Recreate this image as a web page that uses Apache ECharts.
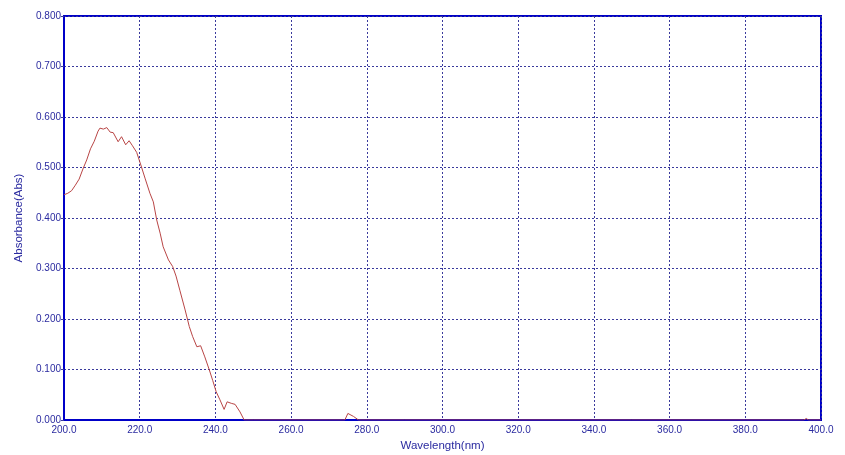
<!DOCTYPE html>
<html>
<head>
<meta charset="utf-8">
<script src="https://cdn.jsdelivr.net/npm/echarts@6/dist/echarts.min.js"></script>
<style>
html,body{margin:0;padding:0;background:#fff;}
#main{width:845px;height:455px;}
</style>
</head>
<body>
<div id="main"></div>
<script>
var wavelengths = [200.0, 201.0, 202.0, 203.0, 204.0, 205.0, 206.0, 207.0, 208.0, 209.0, 209.5, 210.4, 211.3, 212.2, 213.0, 214.3, 215.2, 216.3, 217.2, 218.1, 219.2, 220.3, 221.4, 222.7, 223.6, 224.5, 225.4, 226.2, 227.6, 228.7, 229.6, 230.6, 232.0, 233.1, 234.0, 235.1, 236.1, 237.2, 238.4, 239.3, 240.2, 241.2, 242.3, 243.1, 244.2, 245.2, 246.5, 247.6, 250.0, 260.0, 270.0, 274.2, 275.0, 276.5, 277.8, 290.0, 320.0, 350.0, 380.0, 395.5, 396.1, 396.7, 400.0];
var absorbance = [0.446, 0.449, 0.454, 0.465, 0.477, 0.497, 0.515, 0.537, 0.552, 0.572, 0.578, 0.576, 0.579, 0.570, 0.569, 0.551, 0.561, 0.545, 0.553, 0.543, 0.530, 0.505, 0.479, 0.449, 0.432, 0.396, 0.370, 0.343, 0.317, 0.304, 0.285, 0.257, 0.218, 0.185, 0.165, 0.145, 0.147, 0.125, 0.099, 0.078, 0.056, 0.040, 0.021, 0.036, 0.033, 0.031, 0.016, 0.000, 0.000, 0.000, 0.000, 0.000, 0.013, 0.007, 0.000, 0.000, 0.000, 0.000, 0.000, 0.000, 0.003, 0.000, 0.000];

var xName = 'Wavelength(nm)';
var yName = 'Absorbance(Abs)';

var points = wavelengths.map(function (w, i) { return [w, absorbance[i]]; });

var axisBlue = '#0000c8';
var textBlue = '#2b2ba0';
var gridBlue = '#3a3a9c';

var chart = echarts.init(document.getElementById('main'), null, {renderer: 'canvas'});
chart.setOption({
  animation: false,
  backgroundColor: '#ffffff',
  grid: {
    left: 64, right: 24, top: 16, bottom: 35,
    containLabel: false,
    outerBoundsMode: 'none',
    show: true, borderColor: axisBlue, borderWidth: 2, backgroundColor: 'transparent'
  },
  xAxis: {
    type: 'value',
    min: 200, max: 400, interval: 20,
    name: xName,
    nameLocation: 'middle',
    nameGap: 15,
    nameTextStyle: {color: textBlue, fontSize: 11.5, fontFamily: 'Liberation Sans'},
    axisLine: {show: true, lineStyle: {color: axisBlue, width: 2}},
    axisTick: {show: false},
    axisLabel: {
      color: textBlue, fontSize: 10, fontFamily: 'Liberation Sans', margin: 5,
      formatter: function (v) { return v.toFixed(1); }
    },
    splitLine: {show: true, lineStyle: {color: gridBlue, width: 1, type: [2, 2]}}
  },
  yAxis: {
    type: 'value',
    min: 0, max: 0.8, interval: 0.1,
    name: yName,
    nameLocation: 'middle',
    nameGap: 38,
    nameTextStyle: {color: textBlue, fontSize: 11.5, fontFamily: 'Liberation Sans'},
    axisLine: {show: true, lineStyle: {color: axisBlue, width: 2}},
    axisTick: {show: true, length: 3, lineStyle: {color: gridBlue}},
    axisLabel: {
      color: textBlue, fontSize: 10, fontFamily: 'Liberation Sans', margin: 3,
      formatter: function (v) { return v.toFixed(3); }
    },
    splitLine: {show: true, lineStyle: {color: gridBlue, width: 1, type: [2, 2]}}
  },
  series: [{
    type: 'line',
    data: points,
    showSymbol: false,
    symbol: 'none',
    lineStyle: {color: '#b84545', width: 1},
    z: 3
  }]
});
</script>
</body>
</html>
